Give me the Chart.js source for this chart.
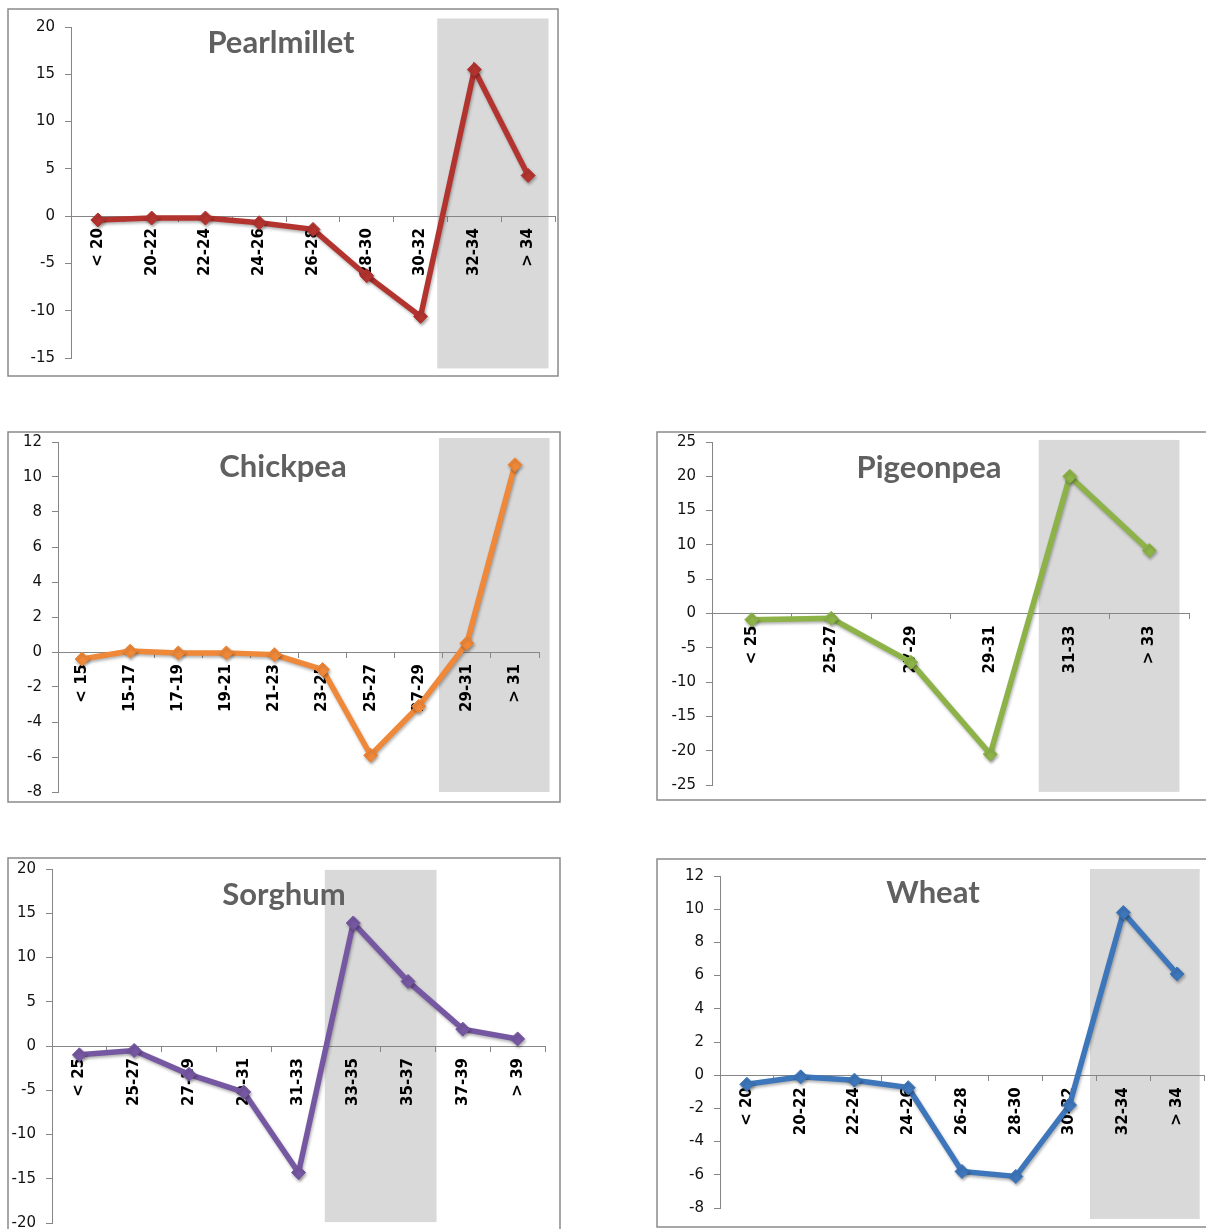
<!DOCTYPE html>
<html>
<head>
<meta charset="utf-8">
<title>Yield change by temperature class</title>
<script src="https://cdn.jsdelivr.net/npm/chart.js@4.4.1/dist/chart.umd.min.js"></script>
<style>
  html, body { margin: 0; padding: 0; background: #fff; overflow: hidden; }
  body { width: 1206px; height: 1229px; position: relative; }
  canvas { position: absolute; }
</style>
</head>
<body>
<canvas id="pearlmillet" width="552" height="369" style="left:7px;top:8px"></canvas>
<canvas id="chickpea" width="554" height="372" style="left:7px;top:431px"></canvas>
<canvas id="pigeonpea" width="556" height="370" style="left:656px;top:431px"></canvas>
<canvas id="sorghum" width="554" height="380" style="left:7px;top:857px"></canvas>
<canvas id="wheat" width="556" height="370" style="left:656px;top:858px"></canvas>
<script>
// Temperature classes (x categories) and % change for each crop
const pearlmilletLabels = ['< 20', '20-22', '22-24', '24-26', '26-28', '28-30', '30-32', '32-34', '> 34'];
const pearlmilletValues = [-0.4, -0.2, -0.2, -0.7, -1.4, -6.3, -10.6, 15.5, 4.3];
const pearlmilletTicks = [-15, -10, -5, 0, 5, 10, 15, 20];

const chickpeaLabels = ['< 15', '15-17', '17-19', '19-21', '21-23', '23-25', '25-27', '27-29', '29-31', '> 31'];
const chickpeaValues = [-0.4, 0.05, -0.05, -0.05, -0.15, -1.0, -5.9, -3.1, 0.5, 10.7];
const chickpeaTicks = [-8, -6, -4, -2, 0, 2, 4, 6, 8, 10, 12];

const pigeonpeaLabels = ['< 25', '25-27', '27-29', '29-31', '31-33', '> 33'];
const pigeonpeaValues = [-0.9, -0.7, -7.1, -20.5, 20.0, 9.2];
const pigeonpeaTicks = [-25, -20, -15, -10, -5, 0, 5, 10, 15, 20, 25];

const sorghumLabels = ['< 25', '25-27', '27-29', '29-31', '31-33', '33-35', '35-37', '37-39', '> 39'];
const sorghumValues = [-1.0, -0.5, -3.2, -5.2, -14.3, 13.9, 7.3, 1.9, 0.8];
const sorghumTicks = [-20, -15, -10, -5, 0, 5, 10, 15, 20];

const wheatLabels = ['< 20', '20-22', '22-24', '24-26', '26-28', '28-30', '30-32', '32-34', '> 34'];
const wheatValues = [-0.55, -0.1, -0.3, -0.75, -5.8, -6.1, -1.8, 9.8, 6.1];
const wheatTicks = [-8, -6, -4, -2, 0, 2, 4, 6, 8, 10, 12];

// frame, grey band, shadow and title
const panelPlugin = {
  id: 'panel',
  beforeDraw(chart, args, opts) {
    const ctx = chart.ctx;
    const x = chart.scales.x, y = chart.scales.y;
    ctx.save();
    ctx.fillStyle = '#ffffff';
    ctx.fillRect(0, 0, chart.width, chart.height);
    const l = x.getPixelForValue(opts.band[0]);
    const r = x.getPixelForValue(opts.band[1]);
    const t = y.getPixelForValue(opts.band[2]);
    const b = y.getPixelForValue(opts.band[3]);
    ctx.fillStyle = '#d9d9d9';
    ctx.fillRect(l, t, r - l, b - t);
    ctx.strokeStyle = '#8a8a8a';
    ctx.lineWidth = 1.5;
    ctx.strokeRect(1, 1, chart.width - 2, chart.height - 2);
    ctx.restore();
  },
  beforeDatasetsDraw(chart) {
    const ctx = chart.ctx;
    ctx.save();
    ctx.shadowColor = 'rgba(0,0,0,0.3)';
    ctx.shadowBlur = 3;
    ctx.shadowOffsetX = 1;
    ctx.shadowOffsetY = 2;
  },
  afterDatasetsDraw(chart) {
    chart.ctx.restore();
  },
  afterDraw(chart, args, opts) {
    const ctx = chart.ctx;
    ctx.save();
    ctx.font = 'bold 31px Lato, "Open Sans", sans-serif';
    ctx.fillStyle = '#606060';
    ctx.textAlign = 'center';
    ctx.textBaseline = 'middle';
    ctx.fillText(opts.title, opts.titleX, opts.titleY);
    ctx.restore();
  }
};

function makeChart(id, labels, values, ticks, color, title, band, box) {
  new Chart(document.getElementById(id), {
    type: 'line',
    data: {
      labels: labels,
      datasets: [{
        data: values,
        borderColor: color,
        backgroundColor: color,
        borderWidth: 5.5,
        tension: 0,
        pointStyle: 'rectRot',
        pointRadius: 7,
        pointBorderWidth: 1,
        pointHoverRadius: 7
      }]
    },
    options: {
      responsive: false,
      animation: false,
      events: [],
      layout: {
        autoPadding: false,
        padding: { left: 0, top: box.top, right: box.right, bottom: box.bottom }
      },
      plugins: {
        legend: { display: false },
        tooltip: { enabled: false },
        panel: { title: title, titleX: box.titleX, titleY: box.titleY, band: band }
      },
      scales: {
        x: {
          position: { y: 0 },
          offset: true,
          afterFit(scale) { scale.paddingLeft = 0; scale.paddingRight = 0; },
          border: { color: '#868686', width: 1 },
          grid: { offset: true, drawOnChartArea: false, drawTicks: true, tickLength: 5, color: '#868686' },
          ticks: {
            autoSkip: false,
            minRotation: 90,
            maxRotation: 90,
            padding: 7,
            color: '#000000',
            font: { family: '"DejaVu Sans", Verdana, sans-serif', size: 15, weight: 'bold' }
          }
        },
        y: {
          min: ticks[0],
          max: ticks[ticks.length - 1],
          afterFit(scale) { scale.width = box.yWidth; scale.paddingTop = 0; scale.paddingBottom = 0; },
          afterBuildTicks(scale) { scale.ticks = ticks.map(v => ({ value: v })); },
          border: { color: '#868686', width: 1 },
          grid: { drawOnChartArea: false, drawTicks: true, tickLength: 6, color: '#868686' },
          ticks: {
            padding: 10,
            color: '#111111',
            font: { family: '"DejaVu Sans", Verdana, sans-serif', size: 15 }
          }
        }
      }
    },
    plugins: [panelPlugin]
  });
}

makeChart('pearlmillet', pearlmilletLabels, pearlmilletValues, pearlmilletTicks, '#b3332f', 'Pearlmillet',
  [6.31, 8.38, 20.9, -16.1], { yWidth: 64, top: 19, right: 4, bottom: 19, titleX: 274, titleY: 35 });
makeChart('chickpea', chickpeaLabels, chickpeaValues, chickpeaTicks, '#ef8838', 'Chickpea',
  [7.42, 9.72, 12.23, -8], { yWidth: 51, top: 11, right: 22, bottom: 11, titleX: 276, titleY: 36 });
makeChart('pigeonpea', pigeonpeaLabels, pigeonpeaValues, pigeonpeaTicks, '#8db348', 'Pigeonpea',
  [3.61, 5.38, 25.3, -26], { yWidth: 56, top: 11, right: 23, bottom: 16, titleX: 273, titleY: 37 });
makeChart('sorghum', sorghumLabels, sorghumValues, sorghumTicks, '#7657a2', 'Sorghum',
  [4.48, 6.52, 19.9, -19.9], { yWidth: 45, top: 12, right: 16, bottom: 14, titleX: 277, titleY: 38 });
makeChart('wheat', wheatLabels, wheatValues, wheatTicks, '#3d76ba', 'Wheat',
  [6.38, 8.42, 12.42, -8.66], { yWidth: 64, top: 18, right: 8, bottom: 20, titleX: 277, titleY: 35 });
</script>
</body>
</html>
